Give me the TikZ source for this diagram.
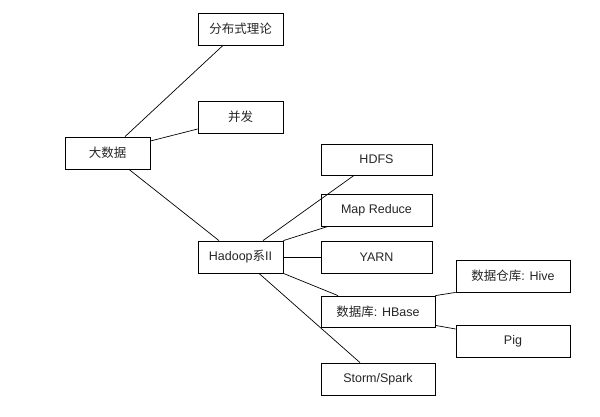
\documentclass[tikz,border=0pt]{standalone}
\usepackage{fontspec}
\setmainfont{Liberation Sans}
\newfontfamily\cjk{Noto Sans CJK SC}
\usetikzlibrary{calc}
\tikzset{
  box/.style={draw=black, line width=0.8pt, fill=white, minimum height=32pt, inner sep=0pt, font=\fontsize{12.5}{14}\selectfont, text=black!85},
  sbox/.style={box, minimum width=85pt},
  mbox/.style={box, minimum width=111pt},
  lbox/.style={box, minimum width=114pt},
  conn/.style={draw=black, line width=0.7pt}
}
\begin{document}
\begin{tikzpicture}[x=1pt,y=-1pt]
\useasboundingbox (0,0) rectangle (600,416);
\fill[white] (0,0) rectangle (600,416);
\node[sbox] (fbs) at (240.5,29) {\cjk 分布式理论};
\node[sbox] (bf) at (240.5,117) {\cjk 并发};
\node[sbox] (dsj) at (107.5,153) {\cjk 大数据};
\node[sbox] (hadoop) at (240.5,257) {Hadoop{\cjk 系}II};
\node[mbox, minimum height=31pt] (hdfs) at (376.5,159.5) {HDFS};
\node[mbox] (mr) at (376.5,210) {Map Reduce};
\node[mbox] (yarn) at (376.5,257) {YARN};
\node[lbox, minimum height=31pt] (hbase) at (378,311.5) {{\cjk 数据库}: HBase};
\node[lbox] (hive) at (513,276) {{\cjk 数据仓库}: Hive};
\node[lbox] (pig) at (513,341) {Pig};
\node[lbox] (storm) at (378,379) {Storm/Spark};

\draw[conn] ([xshift=17.5pt]dsj.north) -- ([xshift=-17.5pt]fbs.south);
\draw[conn] ([yshift=12pt]dsj.east) -- ([yshift=-12pt]bf.west);
\draw[conn] ([xshift=21.5pt]dsj.south) -- ([xshift=-21.5pt]hadoop.north);
\draw[conn] ([xshift=22.5pt]hadoop.north) -- ([xshift=-22.5pt]hdfs.south);
\draw[conn] (hadoop.north east) -- ([xshift=-48.5pt]mr.south);
\draw[conn] (hadoop.east) -- (yarn.west);
\draw[conn] (hadoop.south east) -- ([xshift=-40pt]hbase.north);
\draw[conn] ([xshift=18.5pt]hadoop.south) -- ([xshift=-18pt]storm.north);
\draw[conn] (hbase.north east) -- (hive.south west);
\draw[conn] ([yshift=2pt]hbase.south east) -- ([yshift=12pt]pig.west);
\end{tikzpicture}
\end{document}
